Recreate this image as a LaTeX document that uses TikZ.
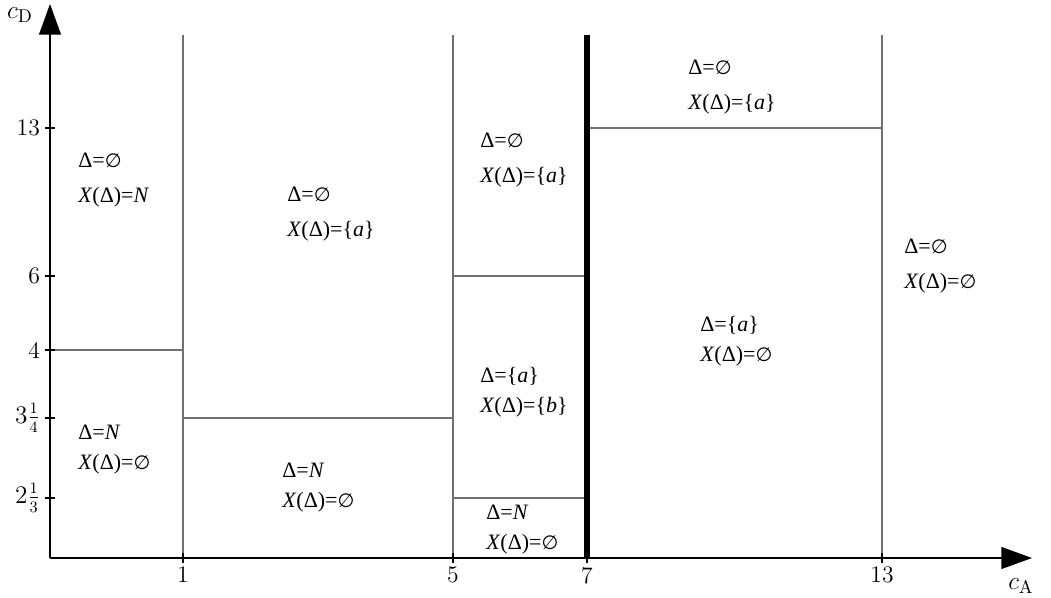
\documentclass[tikz,border=0pt]{standalone}
\usepackage{fontspec}
\usepackage{tikz}
\usetikzlibrary{arrows.meta}
\newfontfamily\regionfont{Liberation Serif}
\newfontfamily\emptyfont{DejaVu Sans}
\definecolor{gridgray}{HTML}{707070}
\newcommand{\regwide}{\regionfont\fontsize{12.5}{19.8}\selectfont}
\newcommand{\regtight}{\regionfont\fontsize{12.5}{17}\selectfont}
\newcommand{\nullset}{{\emptyfont\fontsize{11}{17}\selectfont ∅}}

\begin{document}
\begin{tikzpicture}[
    x=0.02cm, y=-0.02cm,
    axis/.style={line width=0.85pt,-{Triangle[length=17.5pt,width=12.5pt]}},
    part/.style={draw=gridgray,line width=0.6pt},
    border/.style={draw=black,line width=3.4pt},
    tick/.style={line width=0.8pt},
    ticklab/.style={font=\fontsize{13.5}{15}\selectfont,inner sep=1pt},
    axlab/.style={font=\fontsize{15}{17}\selectfont,inner sep=1pt},
    region/.style={font=\regwide,align=left,anchor=west,inner sep=0pt},
    regiontight/.style={font=\regtight,align=left,anchor=west,inner sep=0pt}
]
\useasboundingbox (0,0) rectangle (1051,598);

% axes
\coordinate (O) at (50,558);
\coordinate (ytip) at (50,4);
\coordinate (xtip) at (1032,558);
\draw[axis] (O) -- (ytip);
\draw[axis] (O) -- (xtip);
\node[axlab] (cD) at (20,15) {$c_{\mathrm{D}}$};
\node[axlab] (cA) at (1021,586) {$c_{\mathrm{A}}$};

% partition lines
\draw[part] (183,35) -- (183,558);
\draw[part] (453,35) -- (453,558);
\draw[part] (882,35) -- (882,558);
\draw[part] (50,350) -- (183,350);
\draw[part] (183,418) -- (453,418);
\draw[part] (453,276) -- (587,276);
\draw[part] (453,498) -- (587,498);
\draw[part] (587,128) -- (882,128);
\draw[border] (587,35) -- (587,559);

% ticks
\foreach \x/\lab in {183/1,453/5,587/7,882/13}{
  \draw[tick] (\x,553) -- (\x,563);
  \node[ticklab,anchor=north] (tx\lab) at (\x,565) {\lab};
}
\foreach \y/\lab/\nm in {128/13/a,276/6/b,350/4/c,418/{$3\frac{1}{4}$}/d,498/{$2\frac{1}{3}$}/e}{
  \draw[tick] (45,\y) -- (55,\y);
  \node[ticklab,anchor=east] (ty\nm) at (42,\y) {\lab};
}

% region labels
\node[region] (r1) at (78,180) {Δ=\nullset\\\textit{X}(Δ)=\textit{N}};
\node[regiontight] (r2) at (78,450) {Δ=\textit{N}\\\textit{X}(Δ)=\nullset};
\node[region] (r3) at (287,214) {Δ=\nullset\\\textit{X}(Δ)=\{\textit{a}\}};
\node[regiontight] (r4) at (282,488) {Δ=\textit{N}\\\textit{X}(Δ)=\nullset};
\node[region] (r5) at (480,160) {Δ=\nullset\\\textit{X}(Δ)=\{\textit{a}\}};
\node[regiontight] (r6) at (480,392) {Δ=\{\textit{a}\}\\\textit{X}(Δ)=\{\textit{b}\}};
\node[regiontight] (r7) at (486,530) {Δ=\textit{N}\\\textit{X}(Δ)=\nullset};
\node[region] (r8) at (688,87) {Δ=\nullset\\\textit{X}(Δ)=\{\textit{a}\}};
\node[regiontight] (r9) at (700,341) {Δ=\{\textit{a}\}\\\textit{X}(Δ)=\nullset};
\node[region] (r10) at (904,266) {Δ=\nullset\\\textit{X}(Δ)=\nullset};
\end{tikzpicture}
\end{document}
